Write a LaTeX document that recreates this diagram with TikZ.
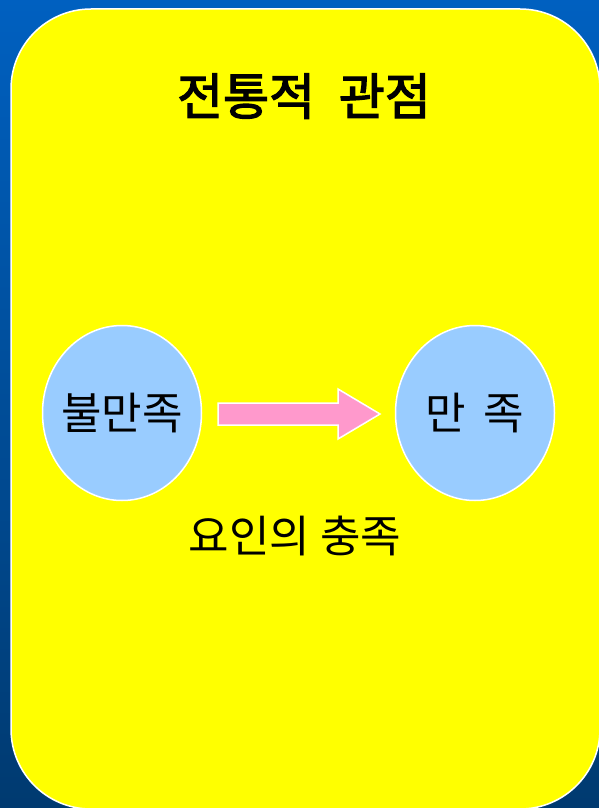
\documentclass[tikz,border=0pt]{standalone}
\usepackage{fontspec}
\usetikzlibrary{shapes.geometric}
\newfontfamily\kr{Noto Sans CJK KR}
\newfontfamily\krb[FakeBold=2.5]{Noto Sans CJK KR}
\begin{document}
\begin{tikzpicture}[x=1pt,y=-1pt,
  bubble/.style={ellipse,draw=white,line width=1.5pt,fill=bubblue,minimum width=159pt,minimum height=175pt,inner sep=0pt},
  lbl/.style={font=\kr\fontsize{44}{48}\selectfont,text=black}]
\definecolor{bgtop}{RGB}{0,96,192}
\definecolor{bgbot}{RGB}{0,58,112}
\definecolor{bubblue}{RGB}{153,204,255}
\definecolor{pinkar}{RGB}{255,153,204}
\definecolor{panel}{RGB}{255,255,0}
\useasboundingbox (0,0) rectangle (599,808);
\shade[top color=bgtop,bottom color=bgbot] (0,0) rectangle (599,808);
\draw[white,line width=1.5pt,fill=panel,rounded corners=80pt] (11,9) rectangle (600,809);
\node[font=\krb\fontsize{50}{54}\selectfont] (title) at (304,96) {전통적\hspace{0.25em} 관점};
\node[bubble] (dis) at (122,413) {};
\node[bubble] (sat) at (475,413) {};
\node[lbl] (dislbl) at (dis.center) {불만족};
\node[lbl] (satlbl) at (sat.center) {만\hspace{0.4em}족};
\draw[white,line width=1.5pt,fill=pinkar,line join=miter]
  (218,403) -- (338,403) -- (338,389) -- (380,414) -- (338,439) -- (338,425) -- (218,425) -- cycle;
\node[lbl] (factor) at (295,536) {요인의 충족};
\end{tikzpicture}
\end{document}
